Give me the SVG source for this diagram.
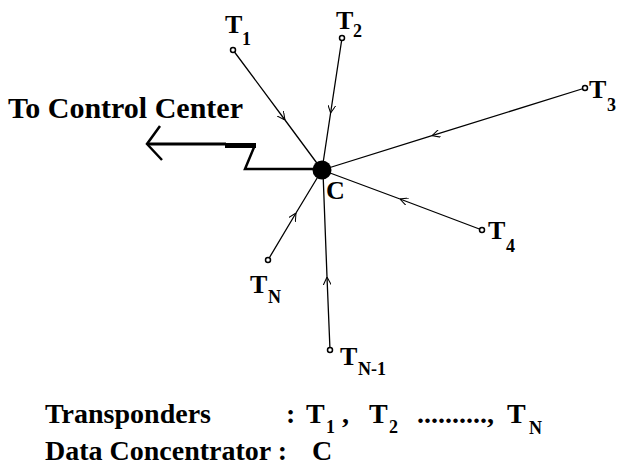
<svg xmlns="http://www.w3.org/2000/svg" width="624" height="470" viewBox="0 0 624 470">
<style>
.t{font-family:"Liberation Serif","Times New Roman",serif;font-weight:bold;fill:#000}
.lbl{font-size:26px}
.sub{font-size:18px}
.subn{font-size:18px}
.big{font-size:30px}
.btm{font-size:28px}
.bs{font-size:18px}
.link{fill:none;stroke:#000;stroke-width:1.3;marker-mid:url(#chev)}
.node{fill:#fff;stroke:#000;stroke-width:1.5}
.ctl{fill:none;stroke:#000;stroke-linejoin:miter}
</style>
<defs>
<marker id="chev" viewBox="0 0 10 10" refX="10" refY="5" markerWidth="8" markerHeight="8" markerUnits="userSpaceOnUse" orient="auto">
<path d="M0,0 L10,5 L0,10" fill="none" stroke="#000" stroke-width="1.3"/>
</marker>
</defs>
<rect width="624" height="470" fill="#fff"/>
<g id="connectors">
<path class="link" d="M233,50 L285,120 L322,170"/>
<path class="link" d="M342,38 L330.6,113 L322,170"/>
<path class="link" d="M585,88 L432,135.7 L322,170"/>
<path class="link" d="M482,230 L400,199 L322,170"/>
<path class="link" d="M268,260 L296,213 L322,170"/>
<path class="link" d="M330,350 L327,277 L323,172"/>
<g id="to-control">
<path class="ctl" d="M322,169 L245,169 L255,145" stroke-width="2.5"/>
<path class="ctl" d="M256,145.5 L225,145.5" stroke-width="5"/>
<path class="ctl" d="M226,144 L148,144" stroke-width="3"/>
<path class="ctl" d="M160,126 L147,144 L162,160" stroke-width="2.5"/>
</g>
</g>
<text class="t big" x="8" y="118">To Control Center</text>
<g id="C">
<circle cx="322" cy="170" r="9.5" fill="#000"/>
<text class="t lbl" x="326" y="199">C</text>
</g>
<g id="T1">
<circle class="node" cx="233" cy="50" r="2.5"/>
<text class="t lbl" x="225" y="33">T</text><text class="t sub" x="242" y="45">1</text>
</g>
<g id="T2">
<circle class="node" cx="342" cy="38" r="2.5"/>
<text class="t lbl" x="336" y="29">T</text><text class="t sub" x="353" y="37">2</text>
</g>
<g id="T3">
<circle class="node" cx="585" cy="88" r="2.5"/>
<text class="t lbl" x="589" y="98">T</text><text class="t sub" x="607" y="111">3</text>
</g>
<g id="T4">
<circle class="node" cx="482" cy="230" r="2.5"/>
<text class="t lbl" x="488" y="239">T</text><text class="t sub" x="506" y="252">4</text>
</g>
<g id="TN">
<circle class="node" cx="268" cy="260" r="2.5"/>
<text class="t lbl" x="250" y="293">T</text><text class="t subn" x="268" y="303">N</text>
</g>
<g id="TN-1">
<circle class="node" cx="330" cy="350" r="2.5"/>
<text class="t lbl" x="340" y="365">T</text><text class="t subn" x="358" y="375">N-1</text>
</g>
<g id="legend">
<text class="t btm" x="45" y="423">Transponders</text>
<text class="t btm" x="286" y="423">:</text>
<text class="t btm" x="306" y="423">T</text><text class="t bs" x="326" y="433">1</text>
<text class="t btm" x="342" y="423">,</text>
<text class="t btm" x="369" y="423">T</text><text class="t bs" x="389" y="433">2</text>
<text class="t btm" x="417" y="423">..........,</text>
<text class="t btm" x="507" y="423">T</text><text class="t subn" x="529" y="434">N</text>
<text class="t btm" x="45" y="460">Data Concentrator :</text>
<text class="t btm" x="312" y="460">C</text>
</g>
</svg>
